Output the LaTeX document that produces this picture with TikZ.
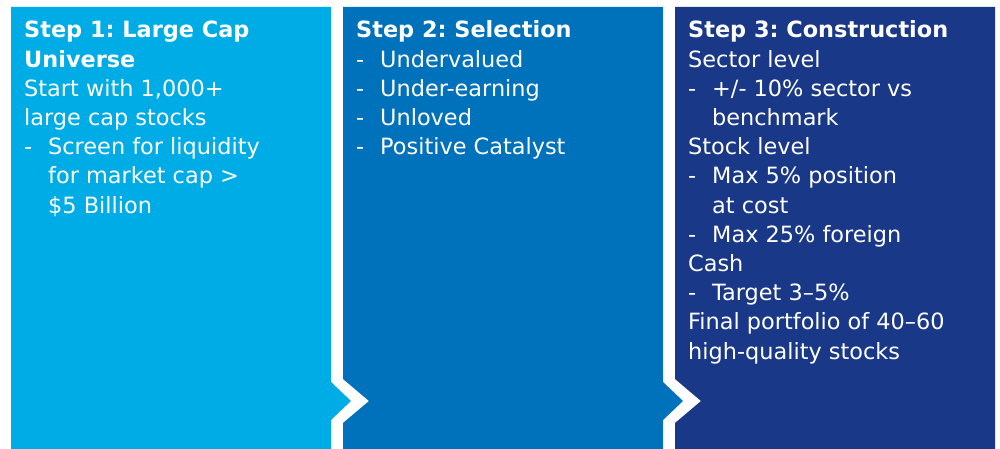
\documentclass[tikz,border=0pt]{standalone}
\usepackage{fontspec}
\setmainfont{DejaVu Sans}
\usepackage{tikz}
\usetikzlibrary{positioning}

\definecolor{stepone}{RGB}{0,172,230}
\definecolor{steptwo}{RGB}{0,113,187}
\definecolor{stepthree}{RGB}{26,56,136}
\newcommand{\bul}{\makebox[24pt][l]{-}}
\newcommand{\ind}{\hspace*{24pt}}
\frenchspacing

\begin{document}
\begin{tikzpicture}[x=1pt,y=-1pt,main text/.style={anchor=base west,inner sep=0pt,text=white,font=\fontsize{22.4}{29.2}\selectfont}]
    \useasboundingbox (0,0) rectangle (1000,449);

		\fill[stepone] (11,7) -- (331,7) -- (331,382) -- (351,401) -- (331,420) -- (331,449) -- (11,449) -- cycle;
		\fill[steptwo] (343,7) -- (663,7) -- (663,382) -- (683,401) -- (663,420) -- (663,449) -- (343,449) -- (343,423) -- (369,401) -- (343,379) -- cycle;
		\fill[stepthree] (675,7) -- (995,7) -- (995,449) -- (675,449) -- (675,423) -- (701,401) -- (675,379) -- cycle;

		\node[main text](1) at (24,38){\begin{tabular}[t]{@{}l@{}}
			\textbf{Step 1: Large Cap}\\
			\textbf{Universe}\\
			Start with 1,000+\\
			large cap stocks\\
			\bul Screen for liquidity\\
			\ind for market cap >\\
			\ind \$5 Billion
		\end{tabular}};
		\node[main text](2) at (356,38){\begin{tabular}[t]{@{}l@{}}
			\textbf{Step 2: Selection}\\
			\bul Undervalued\\
			\bul Under-earning\\
			\bul Unloved\\
			\bul Positive Catalyst
		\end{tabular}};
		\node[main text](3) at (688,38){\begin{tabular}[t]{@{}l@{}}
			\textbf{Step 3: Construction}\\
			Sector level\\
			\bul +/- 10\% sector vs\\
			\ind benchmark\\
			Stock level\\
			\bul Max 5\% position\\
			\ind at cost\\
			\bul Max 25\% foreign\\
			Cash\\
			\bul Target 3–5\%\\
			Final portfolio of 40–60\\
			high-quality stocks
		\end{tabular}};

	\end{tikzpicture}
\end{document}
